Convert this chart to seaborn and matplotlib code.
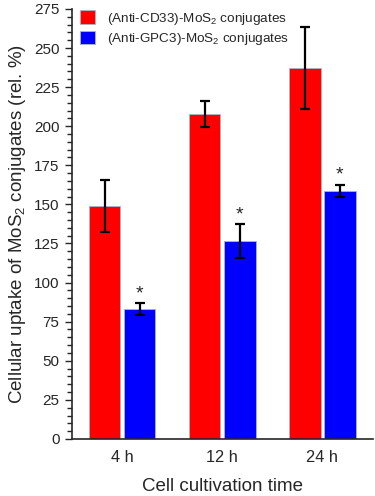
import numpy as np
import pandas as pd
import matplotlib
matplotlib.use("Agg")
import matplotlib.pyplot as plt
import seaborn as sns
from matplotlib.ticker import MultipleLocator

# Data
times = ["4 h", "12 h", "24 h"]
cd33_mean = [149, 208, 237]
cd33_err = [16.5, 8.3, 26.3]
gpc3_mean = [83, 126.5, 158.6]
gpc3_err = [4, 11, 4]
groups = ["(Anti-CD33)-MoS$_2$ conjugates", "(Anti-GPC3)-MoS$_2$ conjugates"]
colors = ["#ff0000", "#0000ff"]

df = pd.DataFrame({
    "time": times * 2,
    "uptake": cd33_mean + gpc3_mean,
    "group": [groups[0]] * 3 + [groups[1]] * 3,
})

sns.set_style("ticks")
plt.rcParams["font.family"] = ["Liberation Sans", "DejaVu Sans"]
plt.rcParams["mathtext.fontset"] = "custom"
plt.rcParams["mathtext.rm"] = "Liberation Sans"
plt.rcParams["mathtext.it"] = "Liberation Sans:italic"

fig = plt.figure(figsize=(3.75, 4.96), dpi=100)
ax = fig.add_axes([0.192, 0.115, 0.803, 0.867])

sns.barplot(data=df, x="time", y="uptake", hue="group", order=times,
            hue_order=groups, palette=colors, width=0.7, gap=0.09,
            errorbar=None, edgecolor="#a9b8c0", linewidth=0.6,
            saturation=1, legend=False, ax=ax)

# error bars and asterisks at the bar centres
for cont, errs, star in zip(ax.containers, [cd33_err, gpc3_err], [False, True]):
    xs = [p.get_x() + p.get_width() / 2 for p in cont.patches]
    ys = [p.get_height() for p in cont.patches]
    ax.errorbar(xs, ys, yerr=errs, fmt="none", ecolor="black",
                elinewidth=1.6, capsize=3.5, capthick=1.6, zorder=5)
    if star:
        for x, y, e in zip(xs, ys, errs):
            ax.text(x, y + e + 0.5, "*", ha="center", va="bottom", fontsize=14)

ax.set_xlim(-0.5, 2.51)
ax.set_ylim(0, 275)
ax.yaxis.set_major_locator(MultipleLocator(25))
ax.yaxis.set_minor_locator(MultipleLocator(5))
ax.tick_params(axis="y", which="major", length=5, width=1, labelsize=11, pad=4)
ax.tick_params(axis="y", which="minor", length=3.5, width=1)
ax.tick_params(axis="x", length=0, labelsize=11.8, pad=8)
for s in ["top", "right"]:
    ax.spines[s].set_visible(False)
ax.spines["left"].set_linewidth(1.2)
ax.spines["bottom"].set_linewidth(1.2)

ax.set_xlabel("Cell cultivation time", fontsize=13.5, labelpad=9)
ax.set_ylabel("Cellular uptake of MoS$_2$ conjugates (rel. %)", fontsize=13.5, labelpad=4)

handles = [plt.Rectangle((0, 0), 1, 1, facecolor=c, edgecolor="#a9b8c0", linewidth=0.6)
           for c in colors]
ax.legend(handles, groups, loc="upper left", bbox_to_anchor=(-0.015, 1.025),
          frameon=False, fontsize=9.7, handlelength=1.15, handleheight=1.15,
          handletextpad=0.9, labelspacing=0.3)

fig.savefig("out.png", dpi=100)
